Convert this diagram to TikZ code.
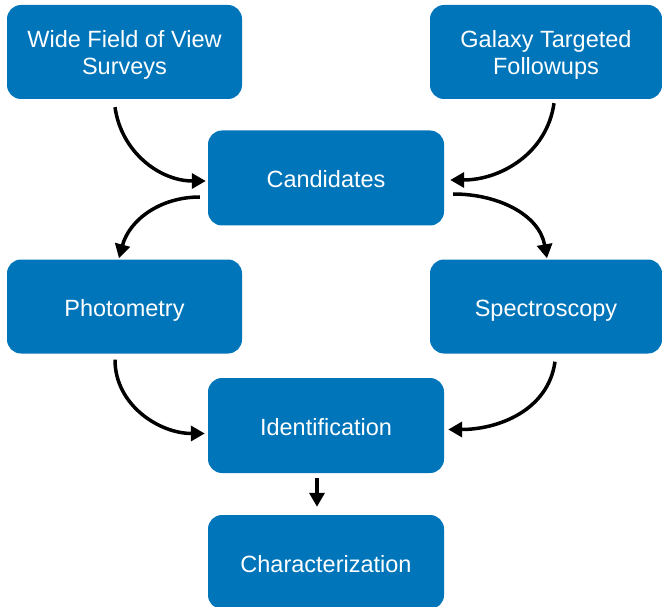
\documentclass[tikz,border=0pt]{standalone}
\usepackage{fontspec}
\setmainfont{Liberation Sans}
\usetikzlibrary{arrows.meta}
\definecolor{boxblue}{RGB}{0,117,186}
\tikzset{
  box/.style={draw=none, fill=boxblue, rounded corners=14pt, text=white,
    minimum width=235pt, minimum height=94pt, align=center, inner sep=0pt,
    font=\fontsize{23.5}{27}\selectfont, text height=20pt, text depth=0pt},
  twoline/.style={text height=45pt, text depth=0pt},
  conn/.style={line width=3.5pt, -{Triangle[length=14pt,width=15pt]}}
}
\begin{document}
\begin{tikzpicture}[x=1pt,y=-1pt]
\useasboundingbox (0,0) rectangle (662,607);
\begin{scope}
\clip (0,0) rectangle (662,607);
\node[box, twoline] (wide) at (124.5,52) {Wide Field of View\\Surveys};
\node[box, twoline, minimum width=232pt] (gal) at (546,52) {Galaxy Targeted\\Followups};
\node[box, minimum width=236pt, minimum height=95pt] (cand) at (326,178) {Candidates};
\node[box] (photo) at (124.5,306.5) {Photometry};
\node[box, minimum width=232pt] (spec) at (546,306.5) {Spectroscopy};
\node[box, minimum width=236pt, minimum height=95pt] (ident) at (326,425.5) {Identification};
\node[box, minimum width=236pt] (char) at (326,562) {Characterization};
\end{scope}
\draw[conn] ([xshift=-9.5pt,yshift=-8pt]wide.south) to[out=-82,in=180] ([xshift=-2pt,yshift=-3pt]cand.west);
\draw[conn] ([xshift=8pt,yshift=-4pt]gal.south) to[out=-98,in=0] ([xshift=6pt,yshift=-2pt]cand.east);
\draw[conn] ([xshift=-8pt,yshift=-19pt]cand.west) to[out=180,in=75] ([xshift=-5.5pt,yshift=1pt]photo.north);
\draw[conn] ([xshift=9pt,yshift=-16pt]cand.east) to[out=0,in=100] ([xshift=1pt,yshift=1pt]spec.north);
\draw[conn] ([xshift=-9.5pt,yshift=-6pt]photo.south) to[out=-90,in=180] ([xshift=-3pt,yshift=-8pt]ident.west);
\draw[conn] ([xshift=9pt,yshift=-8pt]spec.south) to[out=-98,in=0] ([xshift=4pt,yshift=-4pt]ident.east);
\draw[conn] ([xshift=-9pt,yshift=-5pt]ident.south) -- ([xshift=-9pt,yshift=8pt]char.north);
\end{tikzpicture}
\end{document}
